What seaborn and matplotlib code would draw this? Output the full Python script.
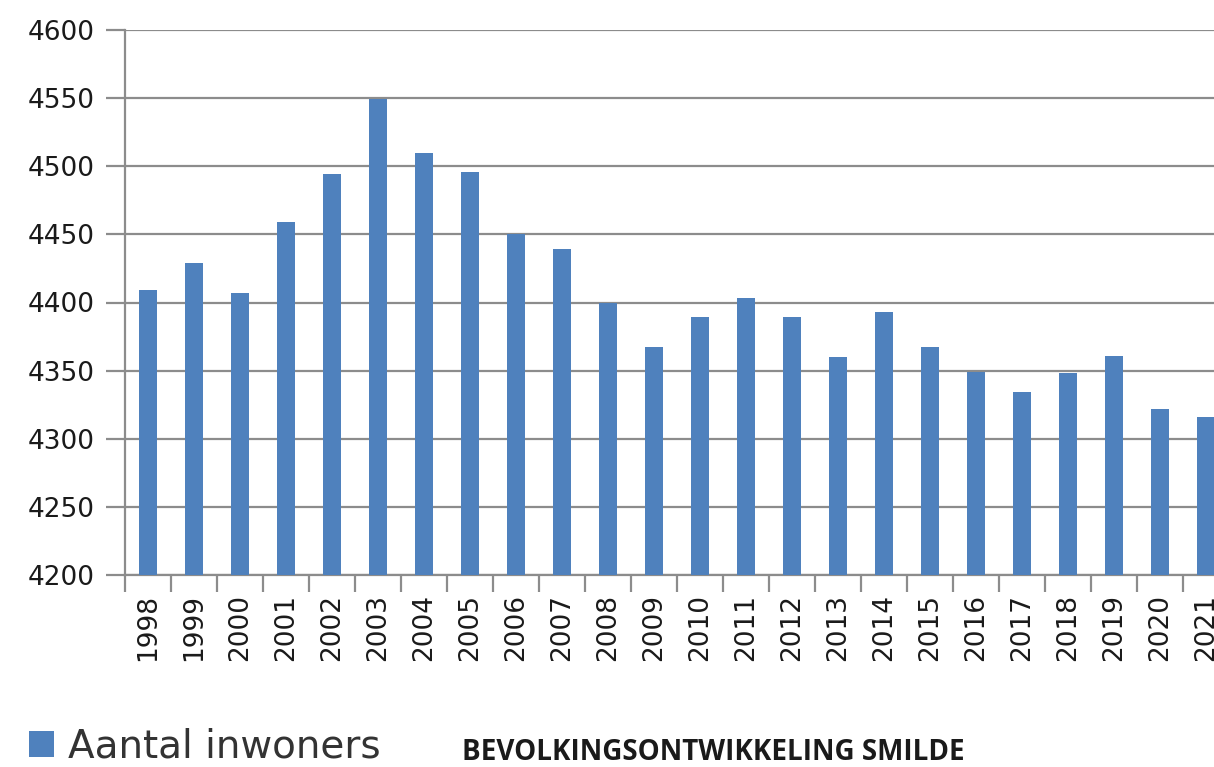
import numpy as np
import pandas as pd
import seaborn as sns
import matplotlib.pyplot as plt

# Bevolking Smilde per jaar
years = [str(y) for y in range(1998, 2022)]
inwoners = [4409, 4429, 4407, 4459, 4494, 4549, 4510, 4496, 4450, 4439,
            4400, 4367, 4389, 4403, 4389, 4360, 4393, 4367, 4349, 4334,
            4348, 4361, 4322, 4316]
y_ticks = [4200, 4250, 4300, 4350, 4400, 4450, 4500, 4550, 4600]

df = pd.DataFrame({"jaar": years, "inwoners": inwoners})

sns.set_style("white")
plt.rcParams["font.family"] = ["DejaVu Sans"]

W, H = 1214, 767
fig = plt.figure(figsize=(W / 100, H / 100), dpi=100)
ax = fig.add_axes([125 / W, 1 - 575 / H, 1 - 125 / W + 0.02, (575 - 30) / H])

bar_color = "#4F81BD"
sns.barplot(data=df, x="jaar", y="inwoners", color=bar_color, width=0.4,
            saturation=1, ax=ax, label="Aantal inwoners", zorder=3, linewidth=0)

ax.set_ylim(4200, 4600)
ax.set_yticks(y_ticks)
ax.set_xlim(-0.5, 23.7)

grid_c = "#8c8c8c"
ax.yaxis.grid(True, color=grid_c, linewidth=1.6, zorder=0)
ax.set_axisbelow(True)
for side in ["top", "right"]:
    ax.spines[side].set_visible(False)
for side in ["left", "bottom"]:
    ax.spines[side].set_color(grid_c)
    ax.spines[side].set_linewidth(1.6)

ax.tick_params(axis="y", left=True, length=14, width=1.6, color=grid_c,
               labelsize=19, pad=8, labelcolor="#1a1a1a")
# x ticks sit between the categories
ax.set_xticks(np.arange(len(years)) - 0.5, minor=True)
ax.tick_params(axis="x", which="minor", bottom=True, length=12, width=1.6, color=grid_c)
ax.tick_params(axis="x", which="major", bottom=False, labelsize=19, pad=10,
               labelrotation=90, labelcolor="#1a1a1a")
ax.set_xlabel("")
ax.set_ylabel("")

leg = ax.legend(loc="center left", bbox_to_anchor=(0.008, 1 - 747 / H),
                bbox_transform=fig.transFigure, frameon=False, fontsize=28,
                handlelength=0.65, handleheight=0.65, handletextpad=0.35, borderpad=0.0)
for t in leg.get_texts():
    t.set_color("#333333")

fig.text(462 / W, 1 - 752 / H, "BEVOLKINGSONTWIKKELING SMILDE", fontsize=20,
         fontweight="bold", family=["Open Sans", "DejaVu Sans"], color="#1a1a1a",
         va="center", ha="left")

fig.savefig("out.png", dpi=100)
